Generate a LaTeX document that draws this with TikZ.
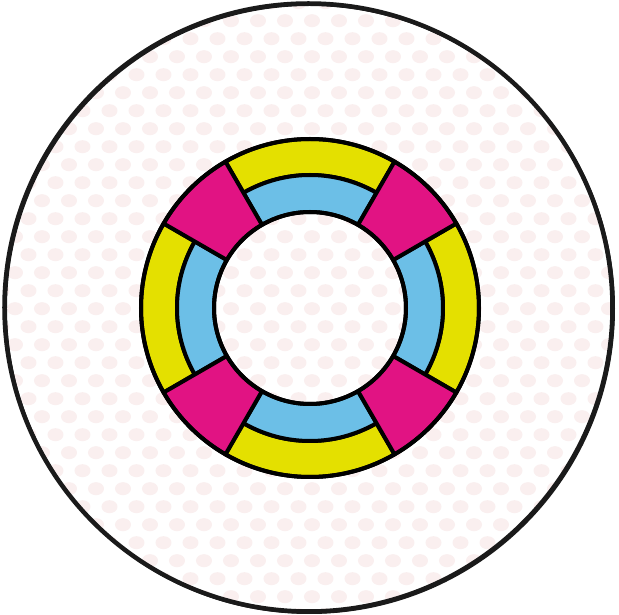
\documentclass[tikz,border=0pt]{standalone}
\usetikzlibrary{calc}
\definecolor{cyellow}{HTML}{E4E000}
\definecolor{cblue}{HTML}{6CBFE7}
\definecolor{cmagenta}{HTML}{E11383}
\definecolor{cdot}{HTML}{FAEFEF}
\definecolor{cline}{HTML}{1A1A1A}
\tikzset{
  every picture/.style={x=1pt, y=1pt},
  rim/.style={draw=cline, line width=4.5pt},
  band/.style={fill=#1, draw=black, line width=4pt, line join=round},
  band/.default=cyellow,
  dot/.style={fill=cdot, draw=none},
}
% annulus sector: start angle, end angle, inner radius, outer radius
\newcommand{\sector}[4]{%
  (#1:#4) arc[start angle=#1, end angle=#2, radius=#4] --
  (#2:#3) arc[start angle=#2, end angle=#1, radius=#3] -- cycle}

\begin{document}
\begin{tikzpicture}
  \useasboundingbox[fill=white] (-310,-307) rectangle (309,308);
  \coordinate (disc) at (-1.5,0.5);
  \coordinate (hub) at (0,0);
  % dotted background inside the disc
  \begin{scope}
    \clip (disc) circle (304);
    \foreach \k in {-4,...,31} {
      \foreach \j in {-7,...,18} {
        \pgfmathsetmacro{\xx}{-160 + 27*\j + 13.5*mod(\k+40,2)}
        \pgfmathsetmacro{\yy}{251.3 - 18*\k}
        \fill[dot] (\xx,\yy) ellipse (8 and 6.5);
      }
    }
  \end{scope}
  \draw[rim] (disc) circle (304);
  \draw[rim, line width=3pt] ($(disc)+(1,-1)$) circle (304);
  % ring
  \foreach \a in {-30,60,150,240} {
    \path[band=cyellow] \sector{\a}{\a+60}{133}{169};
    \path[band=cblue] \sector{\a}{\a+60}{96}{133};
  }
  \foreach \a in {30,120,210,300} {
    \path[band=cmagenta] \sector{\a}{\a+30}{96}{169};
  }
  \draw[black, line width=4pt] (hub) circle (169);
  \draw[black, line width=4pt] (hub) circle (96);
\end{tikzpicture}
\end{document}
